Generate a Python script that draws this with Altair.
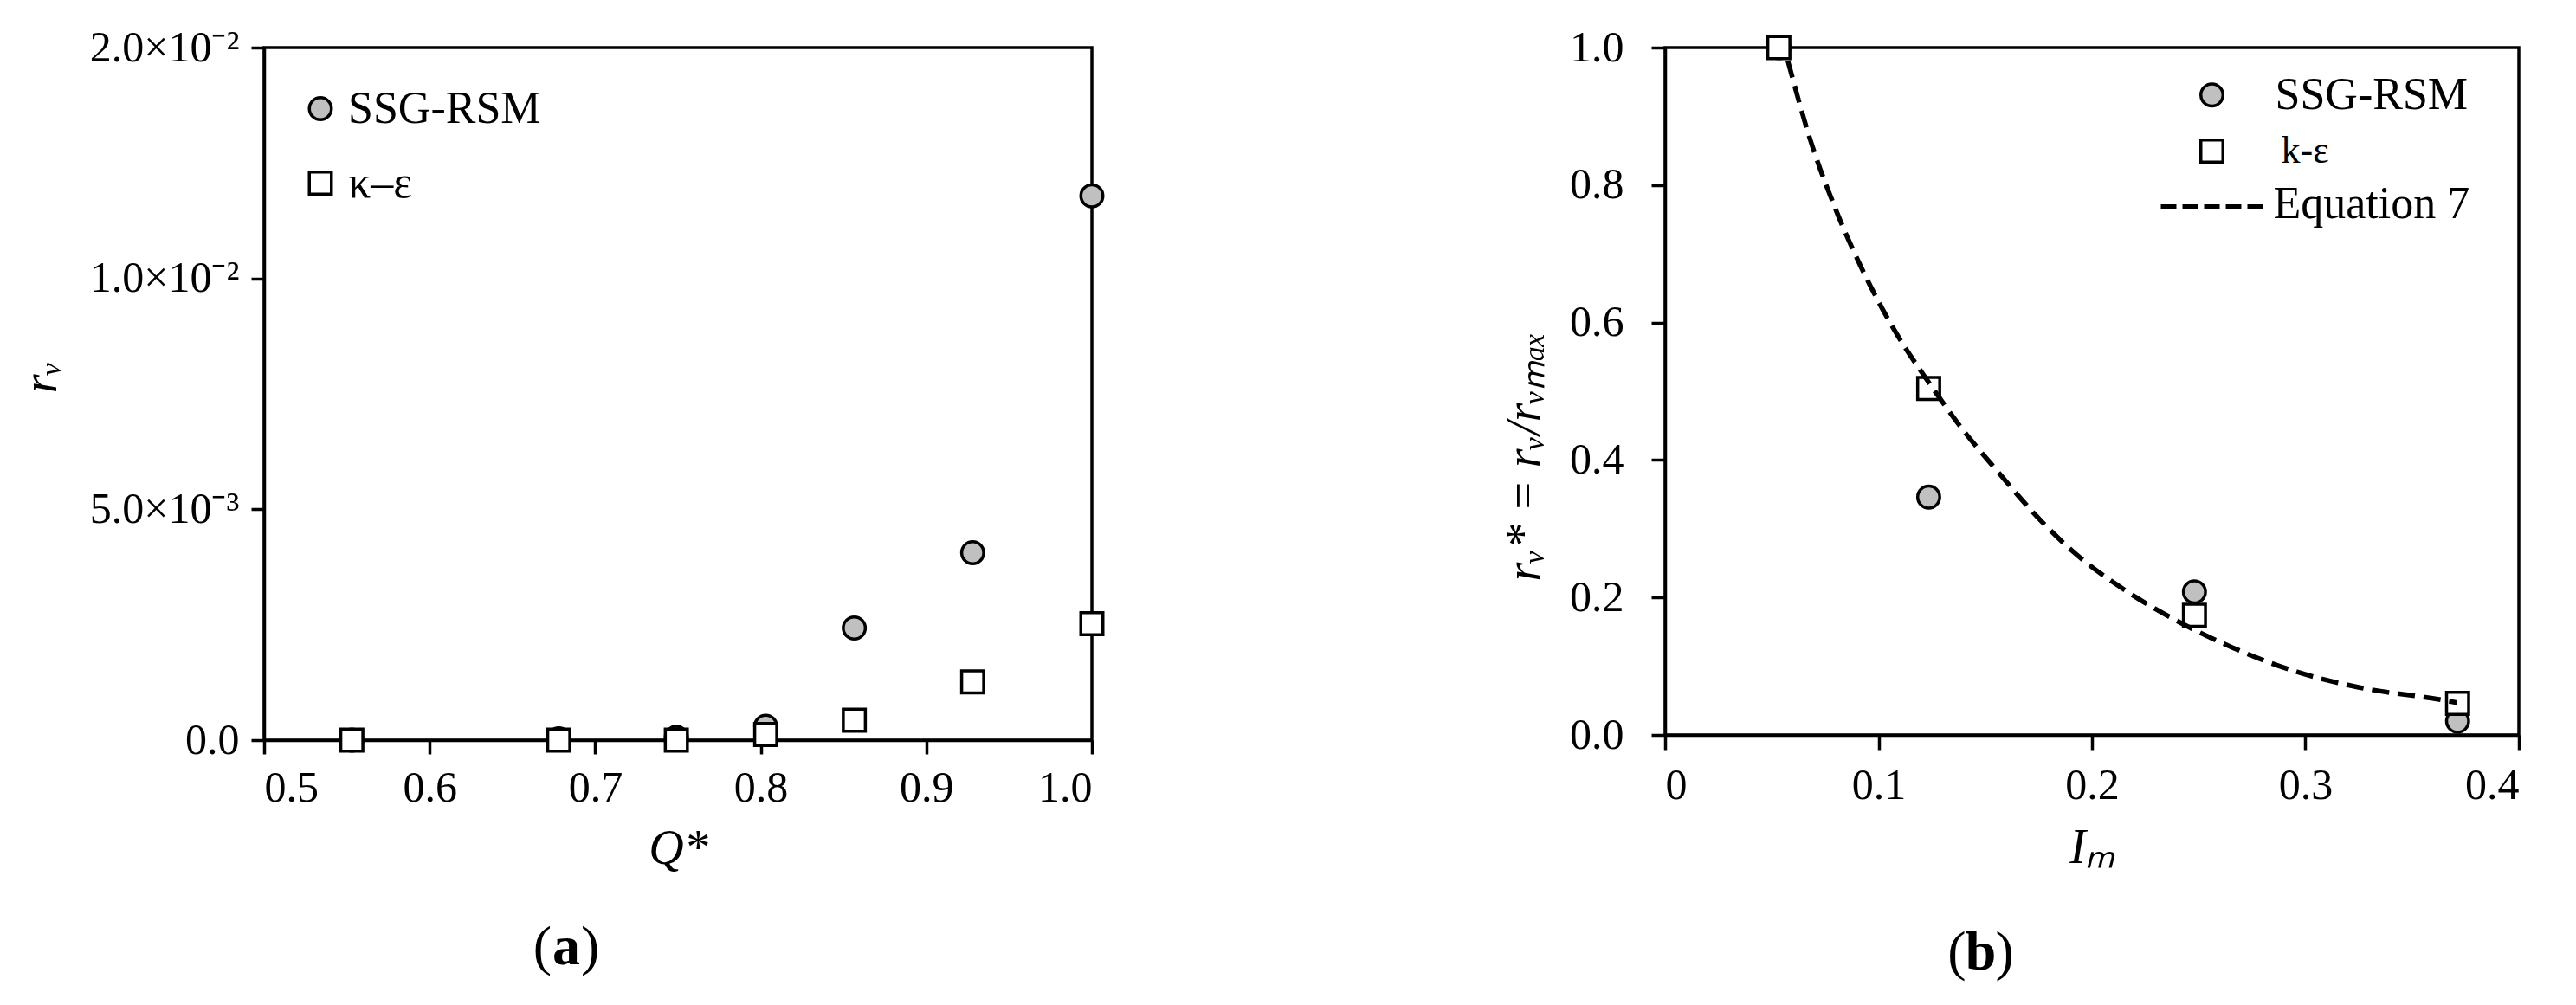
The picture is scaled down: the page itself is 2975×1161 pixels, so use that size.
import altair as alt
import pandas as pd

FONT = "Liberation Serif"

# ---------------- Panel (a) data ----------------
Q_STAR = [0.553, 0.678, 0.749, 0.803, 0.8565, 0.928, 1.0]
RV_SSG_A = [0.0, 0.00003, 0.00006, 0.0003, 0.00243, 0.00406, 0.01179]
RV_KE_A = [0.0, 0.0, 0.0, 0.00012, 0.00043, 0.00126, 0.00252]
A_X_TICKS = [0.5, 0.6, 0.7, 0.8, 0.9, 1.0]
A_Y_TICKS = [0.0, 0.005, 0.010, 0.015]
A_Y_LABELS = ["0.0", "5.0×10⁻³", "1.0×10⁻²", "2.0×10⁻²"]

# ---------------- Panel (b) data ----------------
IM = [0.0533, 0.1235, 0.248, 0.3713]
RVN_SSG = [1.0, 0.346, 0.208, 0.02]
RVN_KE = [1.0, 0.504, 0.174, 0.046]
EQ7_IM = [0.0575, 0.0676, 0.080, 0.0924, 0.108, 0.1235, 0.139, 0.1545,
          0.1763, 0.1914, 0.2138, 0.2435, 0.2659, 0.2957, 0.3254, 0.3649, 0.371]
EQ7_RV = [0.981, 0.870, 0.764, 0.677, 0.586, 0.513, 0.446, 0.388,
          0.311, 0.266, 0.214, 0.160, 0.127, 0.092, 0.069, 0.0505, 0.047]
B_X_TICKS = [0, 0.1, 0.2, 0.3, 0.4]
B_Y_TICKS = [0.0, 0.2, 0.4, 0.6, 0.8, 1.0]

LEG_A = ["SSG-RSM", "κ–ε"]
LEG_B = ["SSG-RSM", "k-ε", "Equation 7"]

GRAY = "#c0c0c0"
SIZE = 650
SW = 3.5

df_a_ssg = pd.DataFrame({"q": Q_STAR, "rv": RV_SSG_A})
df_a_ke = pd.DataFrame({"q": Q_STAR, "rv": RV_KE_A})
df_b_ssg = pd.DataFrame({"im": IM, "r": RVN_SSG})
df_b_ke = pd.DataFrame({"im": IM, "r": RVN_KE})
df_eq7 = pd.DataFrame({"im": EQ7_IM, "r": EQ7_RV})

# label expression for the y axis of panel (a)
expr = "'" + A_Y_LABELS[-1] + "'"
for i in range(len(A_Y_TICKS) - 2, -1, -1):
    mid = (A_Y_TICKS[i] + A_Y_TICKS[i + 1]) / 2
    expr = f"datum.value < {mid} ? '{A_Y_LABELS[i]}' : " + expr

AX = dict(labelFont=FONT, labelFontSize=50, labelColor="black",
          titleFont=FONT, titleFontSize=56, titleFontStyle="italic",
          titleFontWeight="normal", titleColor="black",
          domainColor="black", domainWidth=SW, tickColor="black",
          tickWidth=SW, grid=False)

ONE = alt.Data(values=[{"k": 0}])


def pt(shape, fill, x, y):
    return alt.Chart(ONE).mark_point(shape=shape, filled=True, fill=fill,
                                     stroke="black", strokeWidth=SW,
                                     size=SIZE, opacity=1).encode(
        x=alt.value(x), y=alt.value(y))


def txt(t, x, y, size=52, align="left", weight="normal"):
    return alt.Chart(ONE).mark_text(text=t, align=align, baseline="middle",
                                    font=FONT, fontSize=size,
                                    fontWeight=weight, color="black").encode(
        x=alt.value(x), y=alt.value(y))


def caption(letter, cx, y):
    return [txt("(", cx - 17, y, 64, "right"),
            txt(letter, cx, y, 64, "center", "bold"),
            txt(")", cx + 17, y, 64, "left")]


# ---------------- Panel (a) ----------------
xa = alt.X("q:Q", scale=alt.Scale(domain=[0.5, 1.0], nice=False, zero=False),
           axis=alt.Axis(values=A_X_TICKS, format=".1f", title="Q*",
                         tickSize=16, labelPadding=14, titleY=125,
                         titleBaseline="middle", **AX))
ya = alt.Y("rv:Q", scale=alt.Scale(domain=[0, 0.015], nice=False),
           axis=alt.Axis(values=A_Y_TICKS, labelExpr=expr, title="rᵥ",
                         tickSize=15, labelPadding=14, titleAngle=270,
                         titleX=-258, titleY=380, titleBaseline="middle",
                         titleAlign="center", **AX))

a_ssg = alt.Chart(df_a_ssg).mark_point(shape="circle", filled=True, fill=GRAY,
                                       stroke="black", strokeWidth=SW,
                                       size=SIZE, opacity=1, clip=False).encode(x=xa, y=ya)
a_ke = alt.Chart(df_a_ke).mark_point(shape="square", filled=True, fill="white",
                                     stroke="black", strokeWidth=SW,
                                     size=SIZE, opacity=1, clip=False).encode(x="q:Q", y="rv:Q")

panel_a = alt.layer(
    a_ssg, a_ke,
    pt("circle", GRAY, 65, 70.5), txt(LEG_A[0], 97, 70.5),
    pt("square", "white", 65, 156.5), txt(LEG_A[1], 97, 156.5),
    *caption("a", 349, 1040),
).properties(width=956, height=800)

# ---------------- Panel (b) ----------------
xb = alt.X("im:Q", scale=alt.Scale(domain=[0, 0.4], nice=False),
           axis=alt.Axis(values=B_X_TICKS, format="~g", title="Iₘ",
                         tickSize=17, labelPadding=16, titleY=130,
                         titleBaseline="middle", **AX))
yb = alt.Y("r:Q", scale=alt.Scale(domain=[0, 1], nice=False),
           axis=alt.Axis(values=B_Y_TICKS, format=".1f",
                         title="rᵥ* = rᵥ/rᵥₘₐₓ",
                         tickSize=16, labelPadding=32, titleAngle=270,
                         titleX=-163, titleY=472, titleBaseline="middle",
                         titleAlign="center", **AX))

b_ssg = alt.Chart(df_b_ssg).mark_point(shape="circle", filled=True, fill=GRAY,
                                       stroke="black", strokeWidth=SW,
                                       size=SIZE, opacity=1, clip=False).encode(x=xb, y=yb)
b_ke = alt.Chart(df_b_ke).mark_point(shape="square", filled=True, fill="white",
                                     stroke="black", strokeWidth=SW,
                                     size=SIZE, opacity=1, clip=False).encode(x="im:Q", y="r:Q")
b_eq = alt.Chart(df_eq7).mark_line(color="black", strokeWidth=5.5,
                                   strokeDash=[20, 10], interpolate="monotone").encode(
    x="im:Q", y="r:Q")

leg_dash = alt.Chart(ONE).mark_rule(color="black", strokeWidth=5.5,
                                    strokeDash=[18, 7]).encode(
    x=alt.value(572.5), x2=alt.value(691.5), y=alt.value(183.8))

panel_b = alt.layer(
    b_ssg, b_ke, b_eq,
    pt("circle", GRAY, 631.5, 54.7), txt(LEG_B[0], 704.5, 54.7),
    pt("square", "white", 631.5, 119.6), txt(LEG_B[1], 711.5, 119.6, 44),
    leg_dash, txt(LEG_B[2], 702.5, 181),
    *caption("b", 364.5, 1046),
).properties(width=986, height=794)

chart = alt.hconcat(panel_a, panel_b, spacing=447).properties(
    padding={"left": 9, "top": 20, "right": 5, "bottom": 5},
    background="white",
).configure_view(stroke="black", strokeWidth=SW)

chart.save("out.html", embed_options={"renderer": "svg", "actions": False})
